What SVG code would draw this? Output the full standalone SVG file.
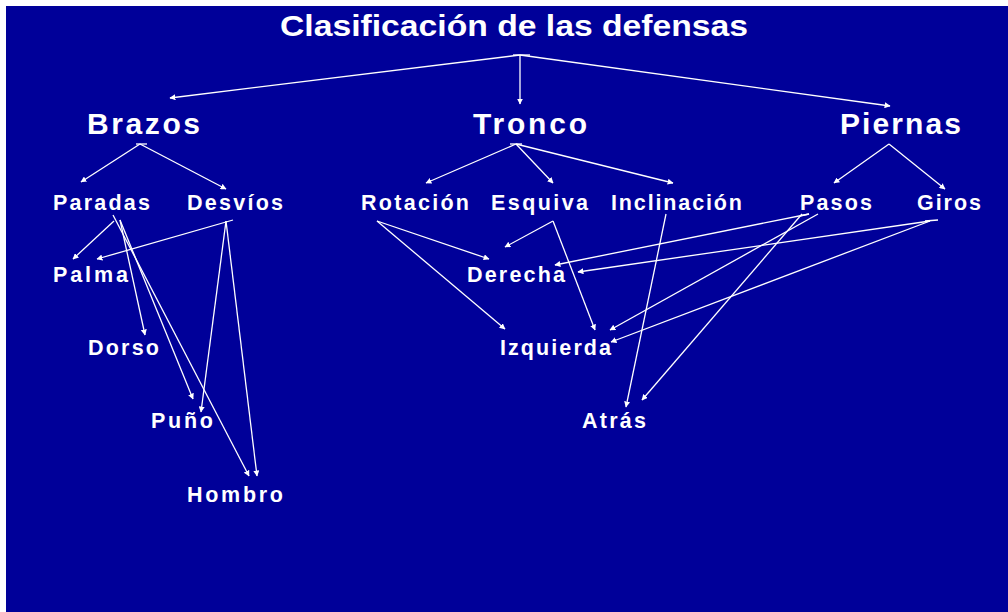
<svg xmlns="http://www.w3.org/2000/svg" width="1008" height="612" viewBox="0 0 1008 612">
<defs>
<style>
.bg{fill:#000099}
text{fill:#ffffff;font-family:"Liberation Sans",Arial,sans-serif;font-weight:bold}
.t0{font-size:30px}
.t1{font-size:30px}
.t2{font-size:21.5px}
.c line{stroke:#ffffff;stroke-width:1.3;fill:none}
.c .a{marker-end:url(#ah)}
</style>
<marker id="ah" viewBox="0 0 10 10" refX="9" refY="5" markerWidth="6" markerHeight="6" markerUnits="userSpaceOnUse" orient="auto">
<path d="M0,0 L10,5 L0,10 z" fill="#ffffff"/>
</marker>
</defs>
<rect class="bg" x="6" y="6" width="1002" height="606"/>
<g id="title"><text class="t0" x="280" y="36" textLength="468" lengthAdjust="spacingAndGlyphs">Clasificación de las defensas</text></g>
<g id="brazos"><text class="t1" x="87" y="134" textLength="113" lengthAdjust="spacing">Brazos</text></g>
<g id="tronco"><text class="t1" x="473" y="134" textLength="114" lengthAdjust="spacing">Tronco</text></g>
<g id="piernas"><text class="t1" x="840" y="134" textLength="121" lengthAdjust="spacing">Piernas</text></g>
<g id="paradas"><text class="t2" x="53" y="210" textLength="97" lengthAdjust="spacing">Paradas</text></g>
<g id="desvios"><text class="t2" x="187" y="210" textLength="96" lengthAdjust="spacing">Desvíos</text></g>
<g id="rotacion"><text class="t2" x="361" y="210" textLength="108" lengthAdjust="spacing">Rotación</text></g>
<g id="esquiva"><text class="t2" x="491" y="210" textLength="97" lengthAdjust="spacing">Esquiva</text></g>
<g id="inclinacion"><text class="t2" x="611" y="210" textLength="131" lengthAdjust="spacing">Inclinación</text></g>
<g id="pasos"><text class="t2" x="800" y="210" textLength="72" lengthAdjust="spacing">Pasos</text></g>
<g id="giros"><text class="t2" x="917" y="210" textLength="64" lengthAdjust="spacing">Giros</text></g>
<g id="palma"><text class="t2" x="53" y="282" textLength="75" lengthAdjust="spacing">Palma</text></g>
<g id="dorso"><text class="t2" x="88" y="355" textLength="71" lengthAdjust="spacing">Dorso</text></g>
<g id="puno"><text class="t2" x="151" y="428" textLength="62" lengthAdjust="spacing">Puño</text></g>
<g id="hombro"><text class="t2" x="187" y="502" textLength="96" lengthAdjust="spacing">Hombro</text></g>
<g id="derecha"><text class="t2" x="467" y="282" textLength="98" lengthAdjust="spacing">Derecha</text></g>
<g id="izquierda"><text class="t2" x="500" y="355" textLength="111" lengthAdjust="spacing">Izquierda</text></g>
<g id="atras"><text class="t2" x="582" y="428" textLength="64" lengthAdjust="spacing">Atrás</text></g>
<g id="connectors" class="c">
<line x1="513" y1="55" x2="530" y2="55"/>
<line class="a" x1="520" y1="55" x2="170" y2="98"/>
<line class="a" x1="520" y1="55" x2="520" y2="104"/>
<line class="a" x1="520" y1="55" x2="890" y2="106"/>
<line x1="136" y1="144" x2="147" y2="144"/>
<line class="a" x1="140" y1="144" x2="81" y2="182"/>
<line class="a" x1="140" y1="144" x2="226" y2="189"/>
<line x1="510" y1="144" x2="522" y2="144"/>
<line class="a" x1="516" y1="144" x2="426" y2="183"/>
<line class="a" x1="516" y1="144" x2="553" y2="183"/>
<line class="a" x1="516" y1="144" x2="673" y2="183"/>
<line class="a" x1="889" y1="144" x2="834" y2="183"/>
<line class="a" x1="889" y1="144" x2="945" y2="189"/>
<line class="a" x1="114" y1="221" x2="73" y2="259"/>
<line class="a" x1="120" y1="220" x2="145" y2="335"/>
<line class="a" x1="120" y1="220" x2="193" y2="399"/>
<line class="a" x1="113" y1="215" x2="249" y2="476"/>
<line class="a" x1="233" y1="220" x2="97" y2="259"/>
<line class="a" x1="226" y1="221" x2="201" y2="412"/>
<line class="a" x1="226" y1="221" x2="257" y2="476"/>
<line class="a" x1="377" y1="221" x2="489" y2="259"/>
<line class="a" x1="377" y1="221" x2="505" y2="329"/>
<line class="a" x1="553" y1="221" x2="505" y2="247"/>
<line class="a" x1="553" y1="221" x2="595" y2="330"/>
<line class="a" x1="666" y1="214" x2="626" y2="407"/>
<line x1="800" y1="216" x2="809" y2="214"/>
<line class="a" x1="809" y1="214" x2="555" y2="265"/>
<line class="a" x1="818" y1="214" x2="610" y2="330"/>
<line class="a" x1="802" y1="214" x2="642" y2="400"/>
<line x1="925" y1="221" x2="938" y2="220"/>
<line class="a" x1="930" y1="221" x2="578" y2="272"/>
<line class="a" x1="930" y1="221" x2="611" y2="342"/>
</g>
</svg>
